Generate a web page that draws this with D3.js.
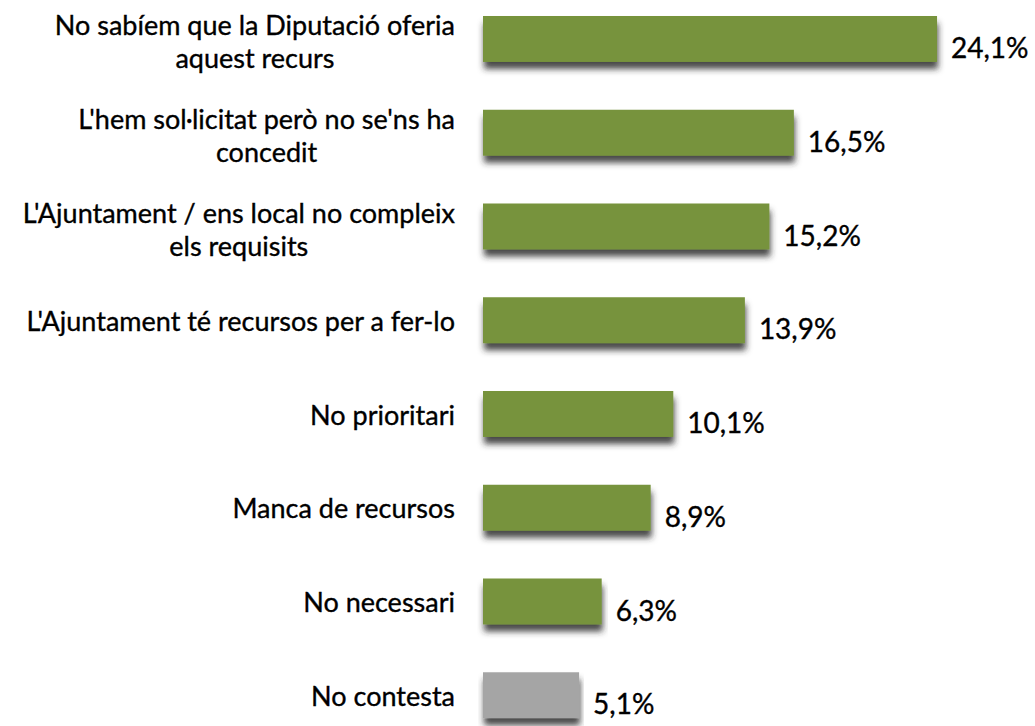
<!DOCTYPE html>
<html>
<head>
<meta charset="utf-8">
<script src="https://cdn.jsdelivr.net/npm/d3@7"></script>
<style>
  body { margin: 0; background: #fff; }
  text { font-family: Lato, "Open Sans", sans-serif; fill: #000; stroke: #000; stroke-width: 0.35px; }
</style>
</head>
<body>
<div id="chart"></div>
<script>
// categories (each entry split in display lines) and values (%)
const categories = [
  "No sabíem que la Diputació oferia|aquest recurs",
  "L'hem sol·licitat però no se'ns ha|concedit",
  "L'Ajuntament / ens local no compleix|els requisits",
  "L'Ajuntament té recursos per a fer-lo",
  "No prioritari",
  "Manca de recursos",
  "No necessari",
  "No contesta"
];
const values = [24.1, 16.5, 15.2, 13.9, 10.1, 8.9, 6.3, 5.1];
const barColors = ["#77933c", "#77933c", "#77933c", "#77933c", "#77933c", "#77933c", "#77933c", "#a5a5a5"];

const width = 1035, height = 726;
const labelRight = 455;

var svg = d3.select("#chart")
  .append("svg")
  .attr("width", width)
  .attr("height", height);

// drop shadow like the spreadsheet bars
var defs = svg.append("defs");
var f = defs.append("filter")
  .attr("id", "shadow")
  .attr("x", "-5%").attr("y", "-20%")
  .attr("width", "110%").attr("height", "160%");
f.append("feDropShadow")
  .attr("dx", 1).attr("dy", 7)
  .attr("stdDeviation", 3)
  .attr("flood-color", "#2a2a2a")
  .attr("flood-opacity", 0.85);

var x = d3.scaleLinear().domain([0, 25]).range([483, 483 + 25 * 18.84]);

var y = d3.scaleBand()
  .domain(d3.range(categories.length))
  .range([-7.9, 742.1])
  .paddingInner(0.51)
  .paddingOuter(0.255);

// bars
svg.selectAll(".bar")
  .data(values)
  .enter()
  .append("rect")
  .attr("class", "bar")
  .attr("x", x(0))
  .attr("y", (d, i) => y(i))
  .attr("width", d => x(d) - x(0))
  .attr("height", y.bandwidth())
  .attr("fill", (d, i) => barColors[i])
  .attr("filter", "url(#shadow)");

// value labels
svg.selectAll(".val")
  .data(values)
  .enter()
  .append("text")
  .attr("class", "val")
  .attr("x", d => x(d) + 14)
  .attr("y", (d, i) => y(i) + y.bandwidth() / 2 + 9)
  .attr("dy", "0.36em")
  .style("font-size", "28px")
  .text(d => d3.format(".1f")(d).replace(".", ",") + "%");

// category labels, centred block right-aligned to the bars
var lineH = 33;
categories.forEach(function(c, i) {
  var lines = c.split("|");
  var g = svg.append("g");
  var cy = y(i) + y.bandwidth() / 2 + (lines.length > 1 ? 3 : 1);
  var t = g.selectAll("text")
    .data(lines)
    .enter()
    .append("text")
    .style("font-size", "27px")
    .attr("text-anchor", "middle")
    .attr("y", (d, k) => cy + (k - (lines.length - 1) / 2) * lineH)
    .attr("dy", "0.36em")
    .text(d => d);
  var maxW = d3.max(t.nodes(), n => n.getComputedTextLength());
  t.attr("x", labelRight - maxW / 2);
});
</script>
</body>
</html>
